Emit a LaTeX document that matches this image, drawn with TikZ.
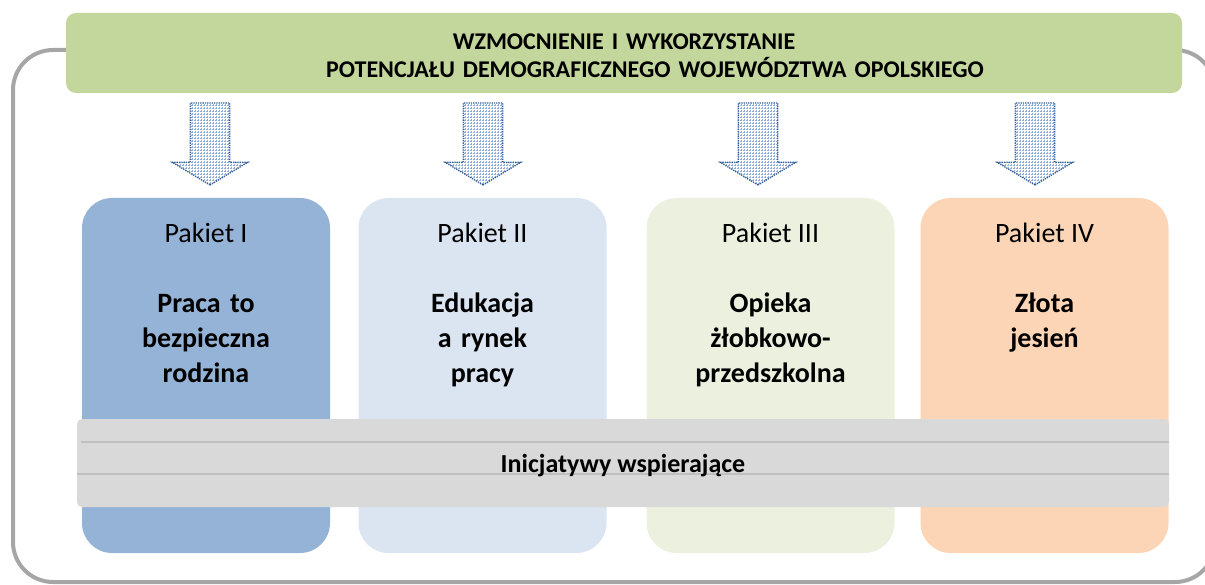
\documentclass[tikz,border=0pt]{standalone}
\usepackage{fontspec}
\setmainfont{Carlito}
\usepackage{xcolor}
\usepackage{tikz}
\usetikzlibrary{shapes,arrows,patterns}
\definecolor{framegray}{HTML}{A6A6A6}
\definecolor{bannergreen}{HTML}{C3D69B}
\definecolor{pak1}{HTML}{95B3D7}
\definecolor{pak2}{HTML}{DBE5F1}
\definecolor{pak3}{HTML}{EBF1DE}
\definecolor{pak4}{HTML}{FBD5B5}
\definecolor{bandgray}{HTML}{D9D9D9}
\definecolor{bandline}{HTML}{BFBFBF}
\definecolor{arrowblue}{HTML}{2F5C96}
\definecolor{gridblue}{HTML}{8EAADB}

\begin{document}
\begin{tikzpicture}[x=1pt, y=-1pt, inner sep=0pt, outer sep=0pt]
\tikzstyle{pakiet}=[rectangle, rounded corners=30pt, minimum width=248pt, minimum height=355pt]
\tikzstyle{downarrow}=[single arrow, shape border rotate=270, anchor=tip, inner sep=19pt, minimum height=82pt, single arrow head extend=18pt, single arrow tip angle=118, pattern=grid, pattern color=gridblue, draw=arrowblue, densely dotted, line width=1.3pt]
\tikzstyle{pakname}=[font=\fontsize{28}{34}\selectfont, anchor=base]
\tikzstyle{paktitle}=[font=\fontsize{28}{35}\selectfont\bfseries, anchor=base, align=center, text width=236pt]
\path[use as bounding box, clip] (0,0) rectangle (1205,585);

\node[draw=framegray, line width=4pt, rounded corners=40pt, minimum width=1202pt, minimum height=532pt] (frame) at (614,316) {};
\node[fill=bannergreen, rounded corners=10pt, minimum width=1116pt, minimum height=80pt] (goal) at (624,53) {};
\node[font=\fontsize{24}{28}\selectfont\bfseries, anchor=base, align=center, text width=1000pt] (goaltxt) at (624,50)
  {WZMOCNIENIE I WYKORZYSTANIE\\ \hspace*{62pt}POTENCJAŁU DEMOGRAFICZNEGO WOJEWÓDZTWA OPOLSKIEGO};

\node[downarrow] (a1) at (210,185) {};
\node[downarrow] (a2) at (483,185) {};
\node[downarrow] (a3) at (758,185) {};
\node[downarrow] (a4) at (1035,185) {};

\node[pakiet, fill=pak1] (p1) at (206,375.5) {};
\node[pakiet, fill=pak2] (p2) at (482.5,375.5) {};
\node[pakiet, fill=pak3] (p3) at (770.5,375.5) {};
\node[pakiet, fill=pak4] (p4) at (1044.5,375.5) {};

\node[pakname] (n1) at (206,243) {Pakiet I};
\node[pakname] (n2) at (482.5,243) {Pakiet II};
\node[pakname] (n3) at (770.5,243) {Pakiet III};
\node[pakname] (n4) at (1044.5,243) {Pakiet IV};

\node[paktitle] (t1) at (206,313) {Praca to\\ bezpieczna\\ rodzina};
\node[paktitle] (t2) at (482.5,313) {Edukacja\\ a rynek\\ pracy};
\node[paktitle] (t3) at (770.5,313) {Opieka\\ żłobkowo-\\ przedszkolna};
\node[paktitle] (t4) at (1044.5,313) {Złota\\ jesień};

\node[fill=bandgray, rounded corners=5pt, minimum width=1092pt, minimum height=88pt] (band) at (623,463) {};
\draw[bandline, line width=1.5pt] ([xshift=4pt, yshift=-23pt]band.north west) -- ([yshift=-23pt]band.north east);
\draw[bandline, line width=1.5pt] ([yshift=-55pt]band.north west) -- ([yshift=-55pt]band.north east);
\node[font=\fontsize{26}{30}\selectfont\bfseries, anchor=base] (bandtxt) at (623,472) {Inicjatywy wspierające};
\end{tikzpicture}
\end{document}
